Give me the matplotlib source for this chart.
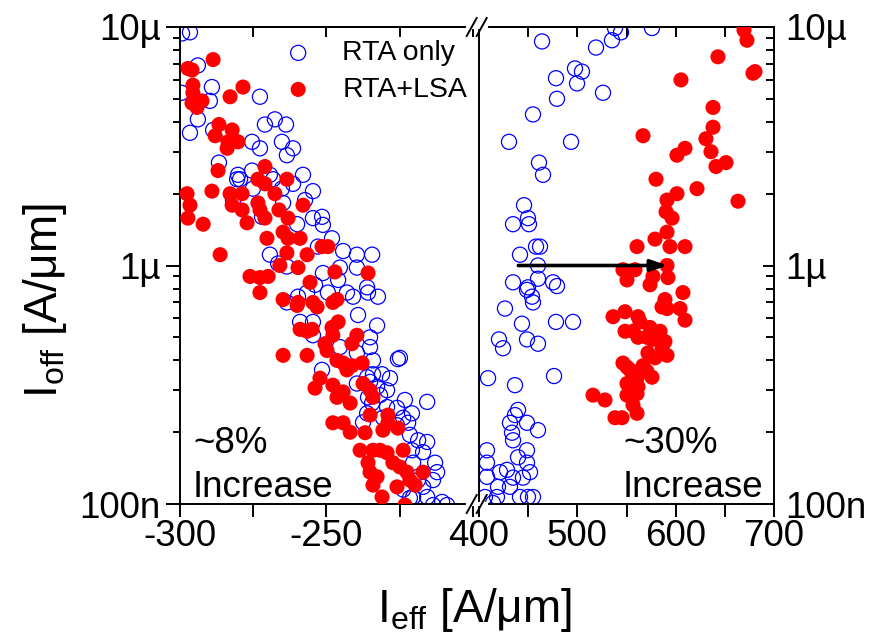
import numpy as np
import matplotlib
matplotlib.use("Agg")
import matplotlib.pyplot as plt
from matplotlib.lines import Line2D
from matplotlib.ticker import MultipleLocator, FixedLocator, LogLocator, FuncFormatter, NullFormatter

plt.rcParams["font.family"] = ["Liberation Sans", "DejaVu Sans"]
plt.rcParams["mathtext.fontset"] = "custom"
plt.rcParams["mathtext.rm"] = "Liberation Sans"
plt.rcParams["mathtext.it"] = "Liberation Sans:italic"
plt.rcParams["axes.unicode_minus"] = False

# ---------------- data (Ieff in uA/um, Ioff in uA/um) ----------------
# pFET side (negative drive current)
rta_ieff_p = [-299.3, -296.6, -293.9, -299.5, -289.1, -289.8, -272.7, -293.9, -296.6, -288.7,
              -271.0, -267.6, -263.8, -275.4, -272.7, -265.2, -261.4, -263.5, -286.7, -280.2,
              -279.5, -275.4, -280.5, -269.3, -268.2, -258.0, -261.4, -265.2, -275.1, -254.6,
              -281.9, -264.8, -257.3, -272.0, -254.6, -251.5, -251.2, -260.0, -248.1, -252.9,
              -244.3, -239.6, -234.4, -269.3,
              -266.5, -263.5, -251.2, -245.4, -239.6, -246.0, -253.9, -249.5, -243.0, -236.1,
              -235.8, -232.4, -240.9, -259.7, -256.6, -263.5, -239.2, -232.7, -259.0, -254.6,
              -254.6, -235.1, -235.1, -239.6, -234.1, -245.4, -224.9, -225.6, -251.5, -236.1,
              -234.1, -231.0, -228.3, -235.1, -232.7, -229.3, -239.6, -235.8, -231.7, -234.4,
              -223.2, -215.6, -225.9, -220.8, -223.8, -225.9, -222.1, -229.3, -230.7, -236.1,
              -237.5, -218.7, -215.6, -221.5, -220.8, -217.0, -220.4, -212.9, -212.2, -213.6,
              -218.7, -217.0, -215.6, -220.4, -210.5, -208.8, -213.6, -223.8, -221.5]
rta_ioff_p = [9.4, 9.5, 6.9, 5.3, 5.6, 4.9, 5.1, 4.1, 3.6, 3.7,
              3.9, 4.1, 3.9, 3.3, 3.1, 3.3, 3.1, 2.9, 2.7, 2.4,
              2.3, 2.5, 2.3, 2.4, 2.3, 2.4, 2.2, 2.1, 2.1, 2.05,
              1.88, 1.83, 1.88, 1.60, 1.58, 1.60, 1.48, 1.49, 1.30, 1.20,
              1.15, 1.11, 1.11, 1.11,
              1.02, 0.99, 0.93, 0.98, 0.98, 0.87, 0.83, 0.77, 0.77, 0.81,
              0.77, 0.74, 0.74, 0.74, 0.77, 0.70, 0.62, 0.56, 0.58, 0.58,
              0.51, 0.50, 0.455, 0.43, 0.40, 0.455, 0.41, 0.405, 0.365, 0.34,
              0.35, 0.35, 0.337, 0.325, 0.31, 0.30, 0.32, 0.28, 0.286, 0.265,
              0.273, 0.268, 0.253, 0.24, 0.23, 0.214, 0.219, 0.255, 0.23, 0.24,
              0.22, 0.185, 0.182, 0.195, 0.168, 0.165, 0.149, 0.149, 0.136, 0.126,
              0.126, 0.118, 0.107, 0.107, 0.102, 0.099, 0.099, 0.115, 0.106]

lsa_ieff_p = [-288.7, -297.3, -295.9, -295.6, -278.5, -282.9, -295.6, -292.5, -295.9, -294.2,
              -286.7, -282.2, -280.2, -283.9, -283.6, -288.0, -287.0, -271.0, -273.4, -271.0,
              -263.5, -289.1, -297.6, -296.6, -297.3, -282.9, -278.8, -282.2, -278.8, -277.1,
              -267.6, -273.4, -272.7, -271.0, -266.2, -263.1, -258.0, -292.1, -270.3, -264.8,
              -263.1, -259.0, -251.5, -249.5, -286.3, -263.5, -256.6,
              -276.1, -272.7, -269.9, -265.9, -259.7, -272.7, -255.6, -247.1, -235.8, -264.8,
              -259.7, -260.0, -254.6, -253.2, -247.8, -246.4, -259.0, -256.6, -254.9, -246.0,
              -248.1, -247.8, -239.6, -241.3, -250.5, -249.8, -264.8, -256.6, -246.4, -244.3,
              -241.3, -237.8, -243.0, -252.2, -253.9, -247.8, -246.4, -244.3, -241.9, -237.5,
              -235.1, -234.1, -247.8, -244.3, -241.9, -235.1, -229.0, -229.0, -230.7, -225.6,
              -236.8, -238.5, -234.1, -231.7, -229.3, -223.8, -227.3, -224.9, -235.8, -235.1,
              -232.7, -222.5, -221.5, -219.7, -217.0, -234.1, -225.9, -231.0, -223.2]
lsa_ioff_p = [7.3, 6.7, 6.6, 5.7, 5.6, 5.1, 5.3, 4.9, 4.8, 4.6,
              3.9, 3.7, 3.3, 3.1, 3.3, 3.5, 2.5, 2.6, 2.3, 2.2,
              2.3, 2.05, 2.0, 1.79, 1.58, 2.0, 2.0, 1.79, 1.71, 1.51,
              2.0, 1.83, 1.71, 1.58, 1.71, 1.58, 1.79, 1.49, 1.30, 1.38,
              1.30, 1.30, 1.20, 1.20, 1.11, 1.13, 1.11,
              0.90, 0.89, 0.90, 1.00, 0.98, 0.77, 0.85, 0.94, 0.93, 0.72,
              0.70, 0.68, 0.70, 0.67, 0.70, 0.72, 0.54, 0.53, 0.54, 0.58,
              0.55, 0.51, 0.51, 0.47, 0.47, 0.44, 0.42, 0.42, 0.40, 0.39,
              0.38, 0.39, 0.365, 0.337, 0.306, 0.315, 0.28, 0.295, 0.265, 0.32,
              0.30, 0.28, 0.219, 0.219, 0.20, 0.236, 0.236, 0.219, 0.204, 0.208,
              0.199, 0.168, 0.168, 0.168, 0.164, 0.168, 0.149, 0.143, 0.149, 0.136,
              0.130, 0.136, 0.126, 0.120, 0.136, 0.120, 0.118, 0.107, 0.099]

# nFET side (positive drive current)
rta_ieff_n = [464.1, 478.3, 479.3, 454.9, 430.5, 493.6, 461.0, 465.1, 497.6, 504.7,
              499.7, 519.0, 526.1, 535.2, 538.3, 544.4, 575.9, 445.8, 449.8, 434.6,
              450.8, 458.0, 462.0, 441.7,
              460.0, 434.6, 449.8, 460.0, 475.3, 479.3, 453.9, 448.8, 454.9, 426.4,
              443.7, 478.3, 495.6, 420.3, 424.4, 448.8, 460.0, 409.2, 436.6, 476.3,
              439.7, 436.6, 431.5, 433.6, 434.6, 448.8, 460.0, 408.1, 408.1, 408.1,
              448.8, 439.7, 448.8, 451.9, 444.7, 421.4, 428.5, 434.6, 419.3, 431.5,
              418.3, 441.7, 449.8, 454.9, 406.1, 414.2]
rta_ioff_n = [8.7, 6.1, 5.0, 4.3, 3.3, 3.3, 2.7, 2.4, 6.7, 6.5,
              5.8, 8.2, 5.3, 8.8, 9.9, 9.5, 9.9, 1.79, 1.58, 1.49,
              1.49, 1.20, 1.20, 1.11,
              1.00, 0.85, 0.81, 0.88, 0.85, 0.82, 0.74, 0.79, 0.70, 0.66,
              0.57, 0.58, 0.58, 0.49, 0.45, 0.49, 0.47, 0.337, 0.315, 0.344,
              0.248, 0.236, 0.219, 0.199, 0.185, 0.219, 0.204, 0.168, 0.149, 0.130,
              0.168, 0.157, 0.149, 0.136, 0.129, 0.136, 0.139, 0.129, 0.118, 0.118,
              0.107, 0.107, 0.107, 0.107, 0.107, 0.101]

lsa_ieff_n = [669.5, 672.5, 643.0, 678.6, 680.7, 605.4, 638.0, 638.0, 630.8, 635.9,
              566.8, 609.5, 601.3, 641.0, 651.2, 580.0, 621.7, 601.3, 663.4, 591.2,
              590.2, 596.3, 591.2, 579.0, 594.2, 560.7, 609.5,
              591.2, 546.4, 558.6, 550.5, 576.9, 573.9, 592.2, 607.4, 589.1, 586.1,
              591.2, 604.4, 609.5, 536.3, 548.5, 561.7, 563.7, 548.5, 556.6, 561.7,
              573.9, 584.1, 570.8, 575.9, 589.1, 586.1, 571.8, 591.2, 579.0, 546.4,
              550.5, 553.5, 566.8, 570.8, 560.7, 550.5, 575.9, 553.5, 561.7, 550.5,
              560.7, 515.9, 528.1, 556.6, 560.7, 538.3, 545.4]
lsa_ioff_n = [9.7, 8.8, 7.5, 6.4, 6.5, 6.0, 4.6, 3.8, 3.4, 3.0,
              3.5, 3.1, 2.9, 2.6, 2.7, 2.3, 2.1, 2.0, 1.86, 1.88,
              1.68, 1.58, 1.38, 1.29, 1.20, 1.20, 1.20,
              1.00, 0.96, 0.96, 0.87, 0.90, 0.83, 0.89, 0.77, 0.72, 0.67,
              0.66, 0.66, 0.59, 0.61, 0.64, 0.61, 0.58, 0.53, 0.53, 0.50,
              0.55, 0.53, 0.50, 0.49, 0.48, 0.455, 0.43, 0.42, 0.41, 0.39,
              0.375, 0.365, 0.38, 0.36, 0.337, 0.32, 0.34, 0.31, 0.31, 0.286,
              0.29, 0.286, 0.273, 0.26, 0.24, 0.23, 0.23]

# drive-current shift indicated by the arrow
arrow_ieff = [440.0, 592.0]
arrow_ioff = 1.0

ytick_vals = [0.1, 1.0, 10.0]
ytick_text = ["100n", "1\u00b5", "10\u00b5"]
xticks_p = [-300, -250]
xminor_p = [-275, -225, -200]

# ---------------- figure ----------------
W, H = 875, 642
fig = plt.figure(figsize=(W / 100, H / 100), dpi=100)

x_l, x_m, x_r = 180 / W, 479 / W, 774 / W
y_b, y_t = 1 - 504 / H, 1 - 27 / H
axL = fig.add_axes([x_l, y_b, x_m - x_l, y_t - y_b])
axR = fig.add_axes([x_m, y_b, x_r - x_m, y_t - y_b])

TICK_FS = 26.5
SPINE_LW = 1.4
blue, red = "#0000ff", "#ff0000"
ms = 118

for ax, xs_b, ys_b, xs_r, ys_r in [
    (axL, rta_ieff_p, rta_ioff_p, lsa_ieff_p, lsa_ioff_p),
    (axR, rta_ieff_n, rta_ioff_n, lsa_ieff_n, lsa_ioff_n),
]:
    ax.scatter(xs_b, ys_b, s=ms, facecolors="none", edgecolors=blue,
               linewidths=0.9, label="RTA only", zorder=2)
    ax.scatter(xs_r, ys_r, s=ms, facecolors=red, edgecolors="none",
               label="RTA+LSA", zorder=3)
    ax.set_yscale("log")
    ax.set_ylim(0.1, 10)
    for sp in ax.spines.values():
        sp.set_linewidth(SPINE_LW)
    ax.yaxis.set_major_locator(LogLocator(base=10, subs=(1.0,)))
    ax.yaxis.set_minor_locator(LogLocator(base=10, subs=np.arange(2, 10) * 1.0, numticks=20))
    ax.yaxis.set_minor_formatter(NullFormatter())
    ax.yaxis.set_major_formatter(
        FuncFormatter(lambda v, p: dict(zip(ytick_vals, ytick_text)).get(round(v, 3), "")))
    ax.tick_params(axis="x", which="both", direction="out", bottom=True, top=False,
                   labelsize=TICK_FS, pad=2, width=SPINE_LW, length=9)

axL.set_xlim(-300, -197.9)
axL.xaxis.set_major_locator(FixedLocator(xticks_p))
axL.xaxis.set_minor_locator(FixedLocator(xminor_p))
axL.spines["right"].set_visible(False)
axL.tick_params(axis="y", which="both", direction="out", left=True, right=False,
                labelsize=TICK_FS, pad=4, width=SPINE_LW)
axL.tick_params(axis="y", which="major", length=10)
axL.tick_params(axis="y", which="minor", length=5)

axR.set_xlim(400, 700)
axR.xaxis.set_major_locator(MultipleLocator(100))
axR.xaxis.set_minor_locator(MultipleLocator(50))
axR.yaxis.tick_right()
axR.tick_params(axis="y", which="both", direction="in", left=False, right=True,
                labelleft=False, labelright=True, labelsize=TICK_FS, pad=8, width=SPINE_LW)
axR.tick_params(axis="y", which="major", length=8)
axR.tick_params(axis="y", which="minor", length=6)

# top axis ticks point into the plot
for ax in (axL, axR):
    sec = ax.secondary_xaxis("top")
    sec.xaxis.set_major_locator(ax.xaxis.get_major_locator())
    sec.xaxis.set_minor_locator(ax.xaxis.get_minor_locator())
    sec.tick_params(axis="x", which="both", direction="in", length=7,
                    width=SPINE_LW, labeltop=False)
    sec.spines["top"].set_linewidth(SPINE_LW)

# legend
axL.legend(loc="upper left", bbox_to_anchor=(0.30, 0.972), frameon=False,
           fontsize=20.5, borderpad=0, borderaxespad=0, handletextpad=0.55,
           labelspacing=0.37, handlelength=2.0)

# annotations
axL.text(0.0435, 0.107, "~8%", transform=axL.transAxes, fontsize=TICK_FS,
         ha="left", va="baseline")
axL.text(0.0435, 0.015, "Increase", transform=axL.transAxes, fontsize=TICK_FS,
         ha="left", va="baseline")
axR.text(0.488, 0.107, "~30%", transform=axR.transAxes, fontsize=TICK_FS,
         ha="left", va="baseline")
axR.text(0.488, 0.015, "Increase", transform=axR.transAxes, fontsize=TICK_FS,
         ha="left", va="baseline")

axR.annotate("", xy=(arrow_ieff[1], arrow_ioff), xytext=(arrow_ieff[0], arrow_ioff),
             arrowprops=dict(arrowstyle="-|>,head_length=0.5,head_width=0.17",
                             mutation_scale=20, lw=2.6, color="black",
                             shrinkA=0, shrinkB=0), zorder=5)

# axis labels
fig.text(45 / W, 1 - 301 / H, r"$\mathregular{I_{off}}$ [A/$\mathregular{\mu}$m]",
         rotation=90, ha="center", va="center", fontsize=33)
fig.text(474 / W, 1 - 610 / H, r"$\mathregular{I_{eff}}$ [A/$\mathregular{\mu}$m]",
         ha="center", va="center", fontsize=33)

# axis break marks
for yc in (y_t, y_b):
    fig.add_artist(Line2D([468 / W, 486 / W], [yc, yc], color="white", lw=3,
                          transform=fig.transFigure, zorder=10))
    for cx in (471.7, 481.7):
        fig.add_artist(Line2D([(cx - 5) / W, (cx + 5) / W], [yc - 9 / H, yc + 9 / H],
                              color="black", lw=1.4, transform=fig.transFigure, zorder=11))

fig.savefig("out.png", dpi=100)
